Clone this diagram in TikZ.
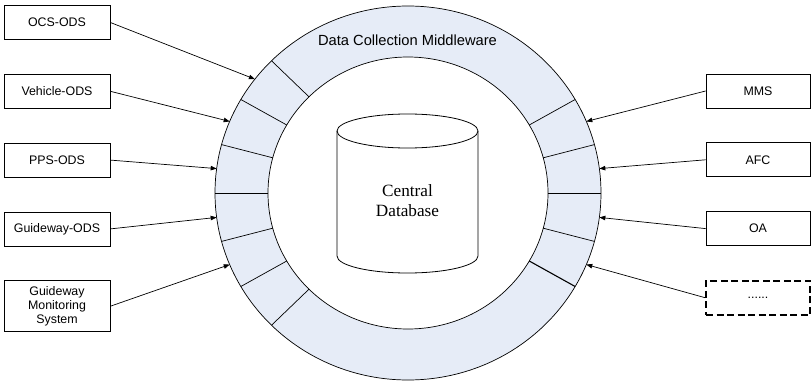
\documentclass[tikz,border=0pt]{standalone}
\usepackage{fontspec}
\setmainfont{Liberation Serif}
\setsansfont{Liberation Sans}
\usetikzlibrary{positioning,arrows.meta}
\tikzset{>={Triangle[length=6pt,width=4.5pt]}}
\definecolor{ringblue}{RGB}{230,236,247}

\begin{document}
\begin{tikzpicture}[x=1pt,y=1pt,node distance=34pt,
  sys/.style={draw,line width=0.8pt,minimum width=106pt,minimum height=34pt,inner sep=2pt,
    align=center,font=\sffamily\fontsize{12.4}{14}\selectfont}]
\useasboundingbox (0,0) rectangle (811,381);
\coordinate (c) at (408,188);
% middleware ring
\draw[fill=ringblue,line width=0.7pt] (c) ellipse[x radius=193,y radius=187];
\draw[fill=white,line width=0.7pt] (c) ellipse[x radius=140,y radius=136];
\foreach \a in {135,150,...,225,-15,0,15,30}
  \draw[line width=0.7pt,shift={(c)}] (\a:140 and 136) -- (\a:193 and 187);
\draw[line width=1.1pt,shift={(c)}] (-30:140 and 136) -- (-30:193 and 187);
\node[font=\sffamily\fontsize{14.7}{17}\selectfont] (mw) at (407.5,340.5) {Data Collection Middleware};
% database
\draw[line width=0.8pt,fill=white] (337,250) -- (337,125)
  arc[start angle=180,end angle=360,x radius=70.5,y radius=17] -- (478,250);
\draw[line width=0.8pt] (407.5,250) ellipse[x radius=70.5,y radius=17];
\node[align=center,font=\fontsize{17.2}{20}\selectfont] (db) at (407.5,180) {Central\\Database};
% sources
\node[sys] (ocs) at (57,358.5) {OCS-ODS};
\node[sys,below=of ocs] (veh) {Vehicle-ODS};
\node[sys,below=of veh] (pps) {PPS-ODS};
\node[sys,below=of pps] (gw) {Guideway-ODS};
\node[sys,minimum height=51pt,below=of gw] (gms) {Guideway\\Monitoring\\System};
\node[sys,minimum width=104pt] (mms) at (758,290) {MMS};
\node[sys,minimum width=104pt,below=of mms] (afc) {AFC};
\node[sys,minimum width=104pt,below=of afc] (oa) {OA};
\node[sys,minimum width=104pt,dash pattern=on 7pt off 3.5pt,line width=1.5pt,below=of oa] (more) {......};
% ports on the ring
\foreach \n/\a in {t1/142.5,t2/157.5,t3/172.5,t4/187.5,t5/202.5,r1/22.5,r2/7.5,r3/-7.5,r4/-22.5}
  \path[shift={(c)}] (\a:193 and 187) coordinate (\n);
\draw[->,line width=0.7pt] (ocs.east) -- (t1);
\draw[->,line width=0.7pt] (veh.east) -- (t2);
\draw[->,line width=0.7pt] (pps.east) -- (t3);
\draw[->,line width=0.7pt] (gw.east) -- (t4);
\draw[->,line width=0.7pt] (gms.east) -- (t5);
\draw[->,line width=0.7pt] (mms.west) -- (r1);
\draw[->,line width=0.7pt] (afc.west) -- (r2);
\draw[->,line width=0.7pt] (oa.west) -- (r3);
\draw[->,line width=0.7pt] (more.west) -- (r4);
\end{tikzpicture}
\end{document}
